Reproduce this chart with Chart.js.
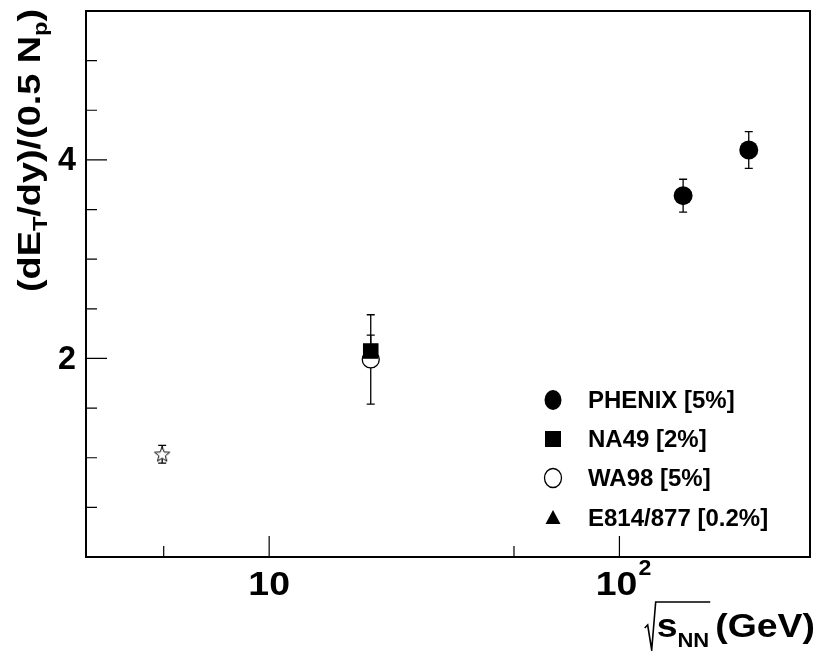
<!DOCTYPE html>
<html>
<head>
<meta charset="utf-8">
<script src="https://cdn.jsdelivr.net/npm/chart.js@4.4.1/dist/chart.umd.min.js"></script>
<style>
  html, body { margin: 0; padding: 0; background: #fff; }
  #wrap { width: 821px; height: 651px; }
</style>
</head>
<body>
<div id="wrap"><canvas id="c" width="821" height="651"></canvas></div>
<script>
// values (x = sqrt(s_NN) in GeV)
const phenixX = [152, 234];
const phenixY = [3.64, 4.10];
const phenixErr = [0.165, 0.185];
const na49X = [19.5];
const na49Y = [2.075];
const na49Err = [0.16];
const wa98X = [19.5];
const wa98Y = [1.99];
const wa98Err = [0.45];
const agsX = [4.95];
const agsY = [1.035];
const agsErr = [0.09];

// axis ticks
const xMajorTicks = [10, 100];
const xMinorTicks = [5, 50];
const yMajorTicks = [2, 4];
const yMinorTicks = [0.5, 1, 1.5, 2.5, 3, 3.5, 4.5, 5];
const legendLabels = ["PHENIX [5%]", "NA49 [2%]", "WA98 [5%]", "E814/877 [0.2%]"];

const FONT = '"Liberation Sans", Arial, Helvetica, sans-serif';

const pts = (xs, ys, es) => xs.map((x, i) => ({ x, y: ys[i], err: es[i] }));

// open five-point star marker
const starImg = (() => {
  const c = document.createElement("canvas");
  c.width = 20; c.height = 20;
  const g = c.getContext("2d");
  g.beginPath();
  for (let i = 0; i < 10; i++) {
    const r = i % 2 === 0 ? 8 : 3.4;
    const a = -Math.PI / 2 + (i * Math.PI) / 5;
    const px = 10 + r * Math.cos(a), py = 10.5 + r * Math.sin(a);
    i === 0 ? g.moveTo(px, py) : g.lineTo(px, py);
  }
  g.closePath();
  g.fillStyle = "#fff";
  g.fill();
  g.lineWidth = 1;
  g.strokeStyle = "#000";
  g.stroke();
  return c;
})();

// draw text squeezed/stretched horizontally
const wideText = (ctx, t, x, y, sx) => {
  ctx.save();
  ctx.translate(x, y);
  ctx.scale(sx, 1);
  ctx.fillText(t, 0, 0);
  ctx.restore();
};

// vertical error bars with small caps, drawn under the markers
const errorBars = {
  id: "errorBars",
  beforeDatasetsDraw(chart) {
    const { ctx, scales: { x, y } } = chart;
    ctx.save();
    ctx.strokeStyle = "#000";
    ctx.lineWidth = 1.3;
    chart.data.datasets.forEach((ds) => {
      ds.data.forEach((p) => {
        const px = x.getPixelForValue(p.x);
        const t = y.getPixelForValue(p.y + p.err);
        const b = y.getPixelForValue(p.y - p.err);
        ctx.beginPath();
        ctx.moveTo(px, t); ctx.lineTo(px, b);
        ctx.moveTo(px - 4, t); ctx.lineTo(px + 4, t);
        ctx.moveTo(px - 4, b); ctx.lineTo(px + 4, b);
        ctx.stroke();
      });
    });
    ctx.restore();
  },
};

// frame, inward ticks, labels, titles, legend
const decor = {
  id: "decor",
  afterDraw(chart) {
    const { ctx, chartArea: a, scales: { x, y } } = chart;
    ctx.save();
    ctx.strokeStyle = "#000";
    ctx.fillStyle = "#000";

    // ticks
    ctx.lineWidth = 1.2;
    ctx.beginPath();
    xMajorTicks.forEach((v) => { const p = x.getPixelForValue(v); ctx.moveTo(p, a.bottom); ctx.lineTo(p, a.bottom - 21); });
    xMinorTicks.forEach((v) => { const p = x.getPixelForValue(v); ctx.moveTo(p, a.bottom); ctx.lineTo(p, a.bottom - 11); });
    yMajorTicks.forEach((v) => { const p = y.getPixelForValue(v); ctx.moveTo(a.left, p); ctx.lineTo(a.left + 21, p); });
    yMinorTicks.forEach((v) => { const p = y.getPixelForValue(v); ctx.moveTo(a.left, p); ctx.lineTo(a.left + 11, p); });
    ctx.stroke();

    // frame
    ctx.lineWidth = 2;
    ctx.strokeRect(a.left, a.top, a.right - a.left, a.bottom - a.top);

    // y tick labels
    ctx.font = "bold 34px " + FONT;
    ctx.textAlign = "left";
    ctx.textBaseline = "middle";
    yMajorTicks.forEach((v) => {
      const w = ctx.measureText(String(v)).width * 0.95;
      wideText(ctx, String(v), a.left - 10 - w, y.getPixelForValue(v) + 1, 0.95);
    });

    // x tick labels: 10 and 10^2
    ctx.textBaseline = "alphabetic";
    ctx.font = "bold 34px " + FONT;
    const w10 = ctx.measureText("10").width * 1.1;
    const p10 = x.getPixelForValue(xMajorTicks[0]);
    wideText(ctx, "10", p10 - w10 / 2, 595, 1.1);
    const p100 = x.getPixelForValue(xMajorTicks[1]);
    wideText(ctx, "10", p100 - 3 - w10 / 2, 595, 1.1);
    ctx.font = "bold 22px " + FONT;
    wideText(ctx, "2", p100 + 19, 575, 1.05);

    // x title: sqrt(s_NN) (GeV), right aligned
    const sxT = 1.1;
    ctx.font = "bold 34px " + FONT;
    const gevW = ctx.measureText("(GeV)").width * sxT;
    const gevX = a.right + 5 - gevW;
    wideText(ctx, "(GeV)", gevX, 637, sxT);
    ctx.font = "bold 20px " + FONT;
    const nnW = ctx.measureText("NN").width * sxT;
    const nnX = gevX - 6 - nnW;
    wideText(ctx, "NN", nnX, 647, sxT);
    ctx.font = "bold 34px " + FONT;
    const sW = ctx.measureText("s").width * sxT;
    const sX = nnX - sW;
    wideText(ctx, "s", sX, 637, sxT);
    ctx.lineWidth = 1.6;
    ctx.beginPath();
    ctx.moveTo(sX - 12, 628);
    ctx.lineTo(sX - 9, 625);
    ctx.lineTo(sX - 5, 650);
    ctx.lineTo(sX - 1, 602);
    ctx.lineTo(nnX + nnW + 1, 602);
    ctx.stroke();

    // y title, rotated, with subscripts
    const parts = [
      ["(dE", 32, 0], ["T", 20, 7], ["/dy)/(0.5 N", 32, 0], ["p", 20, 7], [")", 32, 0],
    ];
    let total = 0;
    parts.forEach(([t, s]) => { ctx.font = "bold " + s + "px " + FONT; total += ctx.measureText(t).width; });
    const sx = 283 / total;
    ctx.translate(40, 292);
    ctx.rotate(-Math.PI / 2);
    ctx.scale(sx, 1);
    let cx = 0;
    parts.forEach(([t, s, dy]) => {
      ctx.font = "bold " + s + "px " + FONT;
      ctx.fillText(t, cx, dy);
      cx += ctx.measureText(t).width;
    });
    ctx.setTransform(1, 0, 0, 1, 0, 0);

    // legend
    const rows = [400, 439, 478, 518];
    const mx = 553;
    ctx.lineWidth = 1.3;
    ctx.beginPath(); ctx.ellipse(mx, rows[0], 8.5, 10, 0, 0, Math.PI * 2); ctx.fill();
    ctx.fillRect(mx - 8, rows[1] - 8, 16, 16);
    ctx.beginPath(); ctx.ellipse(mx, rows[2], 8.5, 9.5, 0, 0, Math.PI * 2); ctx.stroke();
    ctx.beginPath();
    ctx.moveTo(mx, rows[3] - 8); ctx.lineTo(mx + 7.5, rows[3] + 6); ctx.lineTo(mx - 7.5, rows[3] + 6);
    ctx.closePath(); ctx.fill();
    ctx.font = "bold 24px " + FONT;
    ctx.textBaseline = "middle";
    ctx.textAlign = "left";
    legendLabels.forEach((t, i) => ctx.fillText(t, 588, rows[i] + 1));

    ctx.restore();
  },
};

new Chart(document.getElementById("c").getContext("2d"), {
  type: "scatter",
  data: {
    datasets: [
      { label: "NA49", data: pts(na49X, na49Y, na49Err), pointStyle: "rect", pointRadius: 11, backgroundColor: "#000", borderColor: "#000", borderWidth: 0 },
      { label: "PHENIX", data: pts(phenixX, phenixY, phenixErr), pointStyle: "circle", pointRadius: 9.5, backgroundColor: "#000", borderColor: "#000", borderWidth: 0 },
      { label: "WA98", data: pts(wa98X, wa98Y, wa98Err), pointStyle: "circle", pointRadius: 8.5, backgroundColor: "#fff", borderColor: "#000", borderWidth: 1.3 },
      { label: "E814/877", data: pts(agsX, agsY, agsErr), pointStyle: starImg },
    ],
  },
  options: {
    responsive: false,
    animation: false,
    devicePixelRatio: 1,
    layout: { padding: { top: 7, right: 7, left: 0, bottom: 0 } },
    plugins: { legend: { display: false }, tooltip: { enabled: false } },
    scales: {
      x: {
        type: "logarithmic",
        min: 3,
        max: 350,
        grid: { display: false, drawTicks: false },
        border: { display: false },
        ticks: { display: false },
        afterFit: (s) => { s.height = 94; },
      },
      y: {
        min: 0,
        max: 5.5,
        grid: { display: false, drawTicks: false },
        border: { display: false },
        ticks: { display: false },
        afterFit: (s) => { s.width = 86; },
      },
    },
  },
  plugins: [errorBars, decor],
});
</script>
</body>
</html>
